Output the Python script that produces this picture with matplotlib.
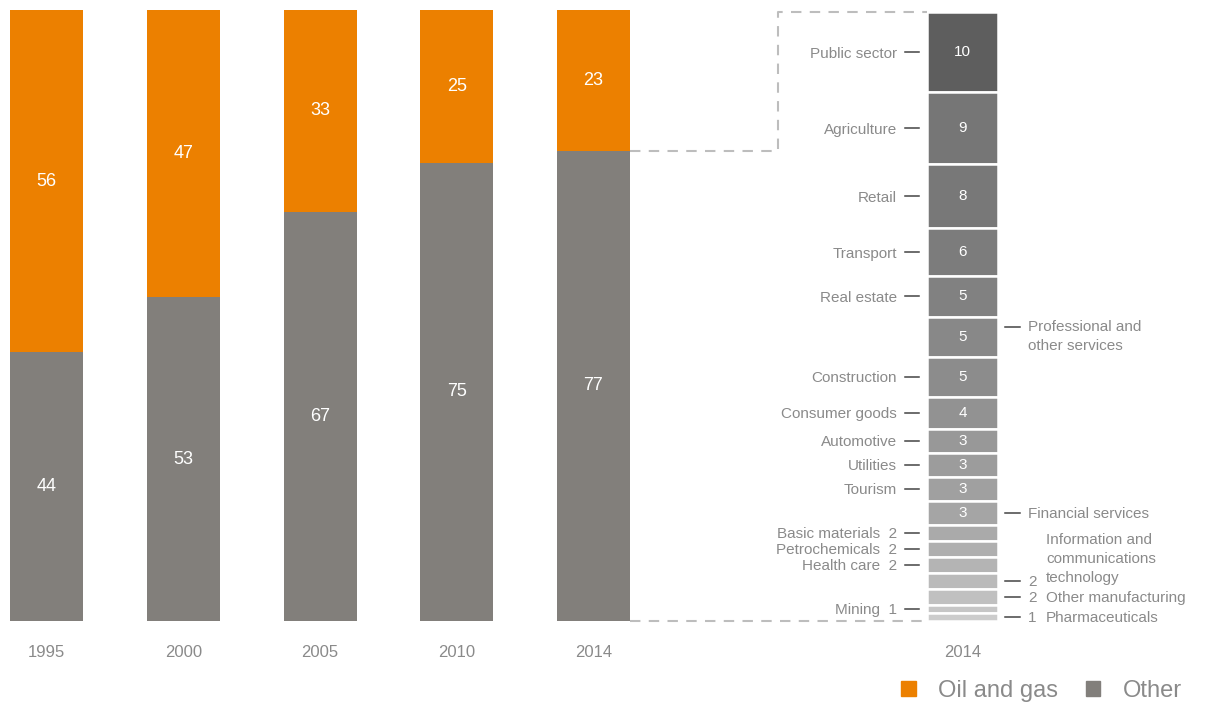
import numpy as np
import matplotlib
matplotlib.use("Agg")
import matplotlib.pyplot as plt
from matplotlib.patches import Patch
from matplotlib.lines import Line2D

plt.rcParams['font.family'] = ['Liberation Sans', 'DejaVu Sans']

# left: share of oil and gas vs other, by year
years = ['1995', '2000', '2005', '2010', '2014']
other = [44, 53, 67, 75, 77]
oil_gas = [56, 47, 33, 25, 23]

# right: breakdown of "other" in 2014, top to bottom
sectors = ['Public sector', 'Agriculture', 'Retail', 'Transport', 'Real estate',
           'Professional and\nother services', 'Construction', 'Consumer goods',
           'Automotive', 'Utilities', 'Tourism', 'Financial services',
           'Basic materials', 'Petrochemicals', 'Health care',
           'Information and\ncommunications\ntechnology', 'Other manufacturing',
           'Mining', 'Pharmaceuticals']
sector_vals = [10, 9, 8, 6, 5, 5, 5, 4, 3, 3, 3, 3, 2, 2, 2, 2, 2, 1, 1]
sector_side = ['L', 'L', 'L', 'L', 'L', 'R', 'L', 'L', 'L', 'L', 'L', 'R',
               'L', 'L', 'L', 'R', 'R', 'L', 'R']
sector_cols = ['#5e5e5e', '#767676', '#787878', '#7c7c7c', '#818181', '#888888',
               '#8c8c8c', '#929292', '#989898', '#9c9c9c', '#a0a0a0', '#a5a5a5',
               '#aaaaaa', '#afafaf', '#b4b4b4', '#bababa', '#c0c0c0', '#c6c6c6',
               '#cccccc']

ORANGE = '#ec8000'
GREY = '#827f7b'
TXT = '#8a8a8a'
W, H = 1211, 707

fig = plt.figure(figsize=(W / 100, H / 100), dpi=100)

# ---- left stacked bars
bar_px = 136.75
axL = fig.add_axes([0, 86 / H, 660 / W, 611 / H])
x = np.arange(len(years))
bw = 73 / bar_px
axL.bar(x, other, width=bw, color=GREY)
axL.bar(x, oil_gas, width=bw, bottom=other, color=ORANGE)
for i in range(len(years)):
    axL.text(x[i], other[i] / 2, str(other[i]), ha='center', va='center',
             color='white', fontsize=13)
    axL.text(x[i], other[i] + oil_gas[i] / 2, str(oil_gas[i]), ha='center',
             va='center', color='white', fontsize=13)
axL.set_xlim(-46.5 / bar_px, (660 - 46.5) / bar_px)
axL.set_ylim(0, 100)
axL.set_xticks(x)
axL.set_xticklabels(years)
axL.set_yticks([])
axL.tick_params(axis='x', length=0, pad=17, labelsize=12, labelcolor=TXT)
for s in axL.spines.values():
    s.set_visible(False)

# ---- right stacked bar (2014 breakdown)
total = sum(sector_vals)
axR = fig.add_axes([927 / W, 86 / H, 71 / W, 609 / H])
tops = total - np.concatenate([[0], np.cumsum(sector_vals)[:-1]])
bottoms = tops - np.array(sector_vals)
axR.bar([0.5] * len(sector_vals), sector_vals, width=1, bottom=bottoms,
        color=sector_cols, edgecolor='white', linewidth=1.8)
axR.set_xlim(0, 1)
axR.set_ylim(0, total)
axR.set_xticks([0.5])
axR.set_xticklabels(['2014'])
axR.set_yticks([])
axR.tick_params(axis='x', length=0, pad=17, labelsize=12, labelcolor=TXT)
for s in axR.spines.values():
    s.set_visible(False)

px = 1 / 71          # one pixel in x data units of axR
py = total / 609     # one pixel in y data units of axR
dash_kw = dict(color='#444444', lw=1.1, clip_on=False)
lab_kw = dict(color=TXT, fontsize=11, clip_on=False)

for i, name in enumerate(sectors):
    v = sector_vals[i]
    yc = (tops[i] + bottoms[i]) / 2
    inside = v >= 3
    if inside:
        axR.text(0.5, yc, str(v), ha='center', va='center', color='white',
                 fontsize=11)
    if sector_side[i] == 'L':
        axR.plot([-22 * px, -8 * px], [yc, yc], **dash_kw)
        label = name if inside else f'{name}  {v}'
        axR.text(-30 * px, yc, label, ha='right', va='center_baseline', **lab_kw)
    else:
        if name.startswith('Professional'):
            axR.plot([1 + 7 * px, 1 + 22 * px], [yc + 10 * py] * 2, **dash_kw)
            axR.text(1 + 30 * px, yc, name, ha='left', va='center',
                     linespacing=1.5, **lab_kw)
        elif inside:
            axR.plot([1 + 7 * px, 1 + 22 * px], [yc, yc], **dash_kw)
            axR.text(1 + 30 * px, yc, name, ha='left', va='center_baseline', **lab_kw)
        else:
            axR.plot([1 + 7 * px, 1 + 22 * px], [yc, yc], **dash_kw)
            axR.text(1 + 30 * px, yc, str(v), ha='left', va='center_baseline', **lab_kw)
            ylab = yc + (22 * py if '\n' in name else 0)
            axR.text(1 + 48 * px, ylab, name, ha='left',
                     va='center' if '\n' in name else 'center_baseline',
                     linespacing=1.48, **lab_kw)

# ---- dashed connectors between 2014 bar and breakdown
fig.canvas.draw()
inv = fig.transFigure.inverted()
p_top = axL.transData.transform((x[-1] + bw / 2, other[-1]))
p_bot = axL.transData.transform((x[-1] + bw / 2, 0))
q_top = axR.transData.transform((0, total))
q_bot = axR.transData.transform((0, 0))
xm = (p_top[0] + q_top[0]) / 2
path_top = inv.transform([p_top, (xm, p_top[1]), (xm, q_top[1]), q_top])
path_bot = inv.transform([p_bot, q_bot])
for pth in (path_top, path_bot):
    fig.add_artist(Line2D(pth[:, 0], pth[:, 1], color='#bdbdbd', lw=1.5,
                          linestyle=(0, (5, 4)), transform=fig.transFigure))

# ---- legend
handles = [Patch(color=ORANGE, label='Oil and gas'), Patch(color=GREY, label='Other')]
leg = fig.legend(handles=handles, loc='center right', bbox_to_anchor=(1182 / W, 16 / H),
                 ncol=2, frameon=False, fontsize=17, handlelength=0.63,
                 handleheight=0.63, handletextpad=0.95, columnspacing=1.15,
                 borderaxespad=0, borderpad=0)
for t in leg.get_texts():
    t.set_color(TXT)

fig.savefig('out.png', dpi=100)
